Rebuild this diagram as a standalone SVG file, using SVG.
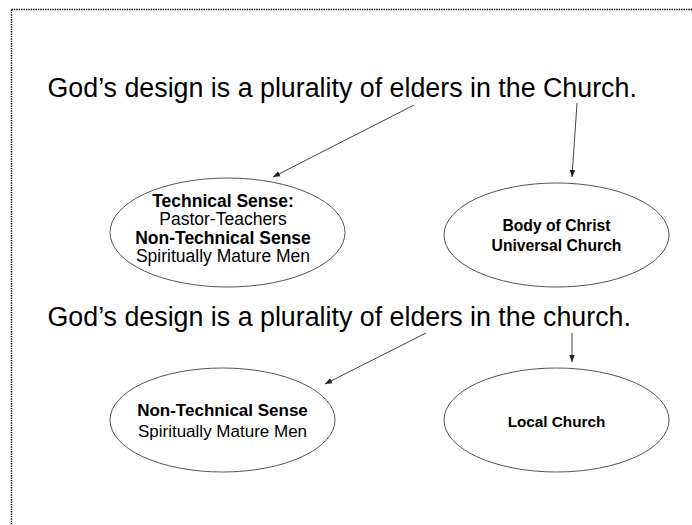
<svg xmlns="http://www.w3.org/2000/svg" width="692" height="525" viewBox="0 0 692 525">
  <style>
    .title { font-family: "Liberation Sans", Arial, sans-serif; font-size: 26.8px; fill: #000; }
    .node ellipse { fill: #fff; stroke: #555; stroke-width: 1; }
    .lbl { font-family: "Liberation Sans", Arial, sans-serif; fill: #000; text-anchor: middle; }
    .b { font-weight: bold; }
    .conn line { stroke: #444; stroke-width: 1; }
    .border { stroke: #000; stroke-width: 1.4; stroke-dasharray: 1.4 1; fill: none; }
  </style>
  <defs>
    <marker id="arr" viewBox="0 0 10 10" refX="10" refY="5" markerWidth="7" markerHeight="7" markerUnits="userSpaceOnUse" orient="auto">
      <path d="M0,1 L10,5 L0,9 Z" fill="#222"/>
    </marker>
  </defs>
  <rect width="692" height="525" fill="#fff"/>
  <g id="border">
    <line class="border" x1="11.5" y1="9.5" x2="692" y2="9.5"/>
    <line class="border" x1="11.5" y1="9.5" x2="11.5" y2="525"/>
  </g>

  <g id="title1">
    <text class="title" x="47.5" y="97">God’s design is a plurality of elders in the Church.</text>
  </g>
  <g id="title2">
    <text class="title" x="47.5" y="326">God’s design is a plurality of elders in the church.</text>
  </g>

  <g id="connectors" class="conn">
    <line x1="414" y1="105" x2="273" y2="177" marker-end="url(#arr)"/>
    <line x1="577" y1="103" x2="572" y2="177" marker-end="url(#arr)"/>
    <line x1="426" y1="333" x2="325" y2="384" marker-end="url(#arr)"/>
    <line x1="572" y1="333" x2="572" y2="362" marker-end="url(#arr)"/>
  </g>

  <g id="node-elders-technical" class="node">
    <ellipse cx="227.5" cy="232.5" rx="117.5" ry="54.5"/>
    <text class="lbl b" x="223" y="207" font-size="17.5">Technical Sense:</text>
    <text class="lbl" x="223" y="225" font-size="17.5">Pastor-Teachers</text>
    <text class="lbl b" x="223" y="243.5" font-size="17.5">Non-Technical Sense</text>
    <text class="lbl" x="223" y="262" font-size="17.5">Spiritually Mature Men</text>
  </g>
  <g id="node-body-of-christ" class="node">
    <ellipse cx="556.5" cy="235" rx="112.5" ry="52"/>
    <text class="lbl b" x="556.5" y="231" font-size="15.7">Body of Christ</text>
    <text class="lbl b" x="556.5" y="251" font-size="15.7">Universal Church</text>
  </g>
  <g id="node-elders-nontechnical" class="node">
    <ellipse cx="222.5" cy="420" rx="112.5" ry="52"/>
    <text class="lbl b" x="222.5" y="416" font-size="17">Non-Technical Sense</text>
    <text class="lbl" x="222.5" y="437" font-size="17">Spiritually Mature Men</text>
  </g>
  <g id="node-local-church" class="node">
    <ellipse cx="556.5" cy="420" rx="112.5" ry="52"/>
    <text class="lbl b" x="556.5" y="427" font-size="15.3">Local Church</text>
  </g>
</svg>
